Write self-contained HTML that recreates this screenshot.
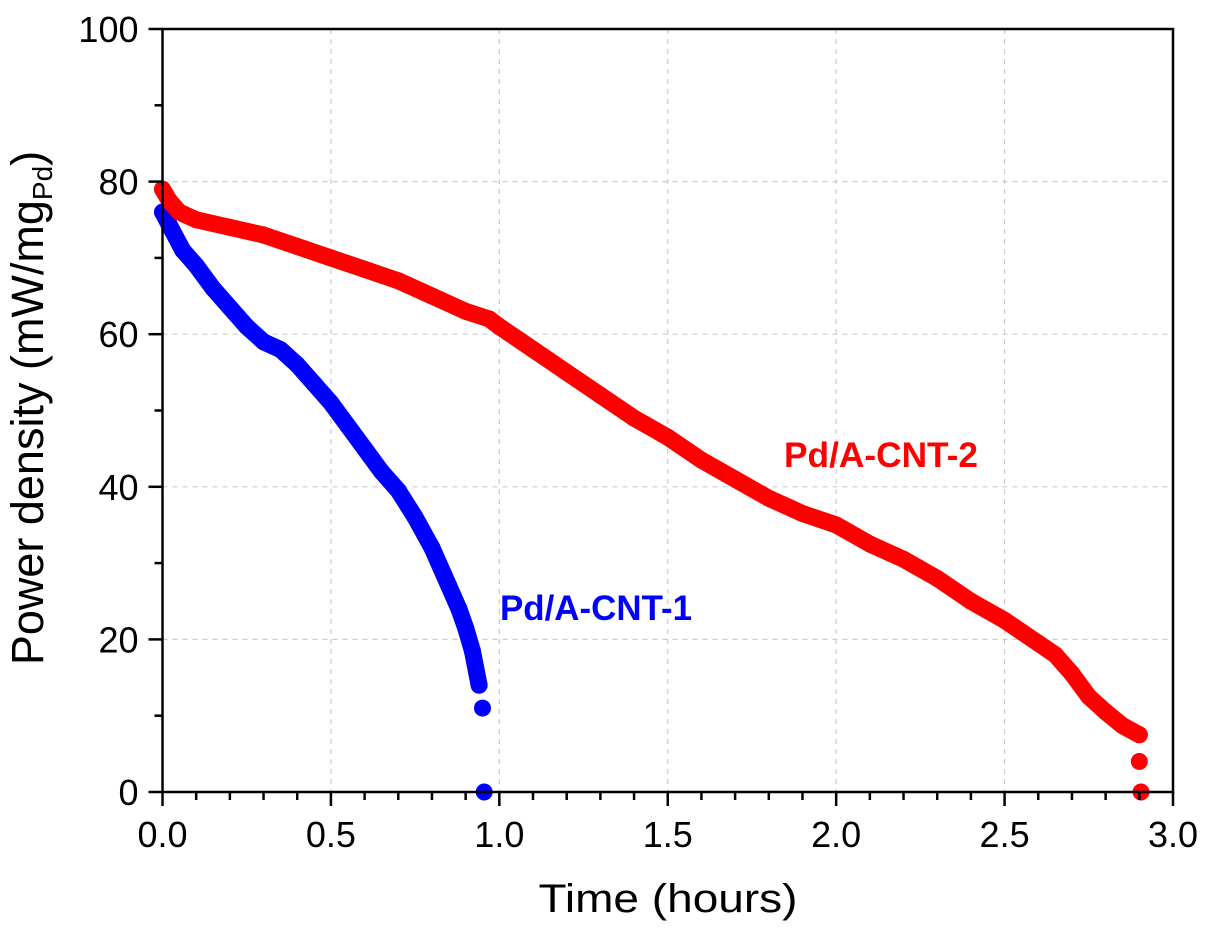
<!DOCTYPE html>
<html><head><meta charset="utf-8"><style>
body{margin:0;background:#fff}
svg{display:block;font-family:"Liberation Sans",Arial,sans-serif}
</style></head><body>
<svg id="chart" width="1206" height="933">
<g id="grid"></g>
<g id="series"></g>
<g id="axes"></g>
<text x="668" y="912" font-size="40" text-anchor="middle" textLength="259" lengthAdjust="spacingAndGlyphs">Time (hours)</text>
<text transform="translate(43,408) rotate(-90)" font-size="45" text-anchor="middle">Power density (mW/mg<tspan font-size="28" dy="9">Pd</tspan><tspan dy="-9">)</tspan></text>
<text x="500" y="620" font-size="35" font-weight="bold" fill="#0000ff" textLength="192" lengthAdjust="spacingAndGlyphs">Pd/A-CNT-1</text>
<text x="784" y="467" font-size="35" font-weight="bold" fill="#ff0000" textLength="194" lengthAdjust="spacingAndGlyphs">Pd/A-CNT-2</text>
</svg>
<script>
const blueT=[0,0.03,0.06,0.1,0.15,0.2,0.25,0.3,0.35,0.4,0.45,0.5,0.55,0.6,0.65,0.7,0.75,0.8,0.85,0.88,0.9,0.92,0.94];
const blueP=[76,73.5,71,69,66,63.5,61,59,58,56,53.5,51,48,45,42,39.5,36,32,27,24,21.5,18.5,14];
const blueTailT=[0.95,0.955];
const blueTailP=[11,0];
const redT=[0,0.02,0.05,0.1,0.2,0.3,0.4,0.5,0.6,0.7,0.8,0.9,0.97,1.0,1.1,1.2,1.3,1.4,1.5,1.6,1.7,1.8,1.9,2.0,2.1,2.2,2.3,2.4,2.5,2.6,2.65,2.7,2.75,2.8,2.85,2.9];
const redP=[79,77.5,76,75,74,73,71.5,70,68.5,67,65,63,62,61,58,55,52,49,46.5,43.5,41,38.5,36.5,35,32.5,30.5,28,25,22.5,19.5,18,15.5,12.5,10.5,8.7,7.5];
const redTailT=[2.9,2.905];
const redTailP=[4,0];
const xTicks=[0,0.5,1.0,1.5,2.0,2.5,3.0];
const xTickLabels=["0.0","0.5","1.0","1.5","2.0","2.5","3.0"];
const yTicks=[0,20,40,60,80,100];
const yTickLabels=["0","20","40","60","80","100"];
const L=162.5,R=1173,T=29,B=792;
const X=v=>L+v/3*(R-L), Y=v=>B-v/100*(B-T);
const NS="http://www.w3.org/2000/svg";
function mk(tag,parent,attrs){const e=document.createElementNS(NS,tag);for(const k in attrs)e.setAttribute(k,attrs[k]);parent.appendChild(e);return e;}
const grid=document.getElementById('grid'),ser=document.getElementById('series'),ax=document.getElementById('axes');
xTicks.forEach((t,i)=>{if(i>0&&i<xTicks.length-1){const g=mk('line',grid,{x1:X(t),x2:X(t),y1:T,y2:B,stroke:'#ccc','stroke-dasharray':'5,5','stroke-width':1.2});

}});
yTicks.forEach((t,i)=>{if(i>0&&i<yTicks.length-1){const g=mk('line',grid,{x1:L,x2:R,y1:Y(t),y2:Y(t),stroke:'#ccc','stroke-dasharray':'5,5','stroke-width':1.2});

}});
function series(ts,ps,tt,tp,color,name){
  const pl=mk('polyline',ser,{points:ts.map((t,i)=>X(t)+','+Y(ps[i])).join(' '),fill:'none',stroke:color,'stroke-width':17,'stroke-linecap':'round','stroke-linejoin':'round'});
  
  
  ts.concat(tt).forEach((t,i)=>{const p=i<ps.length?ps[i]:tp[i-ps.length];const c=mk('circle',ser,{cx:X(t),cy:Y(p),r:8.5,fill:color});
  
  });
}
series(blueT,blueP,blueTailT,blueTailP,'#0000ff','pd-a-cnt-1');
series(redT,redP,redTailT,redTailP,'#ff0000','pd-a-cnt-2');
const fr=mk('rect',ax,{x:L,y:T,width:R-L,height:B-T,fill:'none',stroke:'#000','stroke-width':2.5});


for(let k=0;k<=30;k++){const v=k/10;const major=k%5===0;const l=mk('line',ax,{x1:X(v),x2:X(v),y1:B,y2:B+(major?14:8),stroke:'#000','stroke-width':2.5});

}
for(let k=0;k<=10;k++){const v=k*10;const major=k%2===0;const l=mk('line',ax,{x1:L,x2:L-(major?14:8),y1:Y(v),y2:Y(v),stroke:'#000','stroke-width':2.5});

}
xTicks.forEach((t,i)=>{const tx=mk('text',ax,{x:X(t),y:B+55,'font-size':36,'text-anchor':'middle'});tx.textContent=xTickLabels[i];

});
yTicks.forEach((t,i)=>{const tx=mk('text',ax,{x:L-24,y:Y(t)+13,'font-size':36,'text-anchor':'end'});tx.textContent=yTickLabels[i];

});
</script>
</body></html>
